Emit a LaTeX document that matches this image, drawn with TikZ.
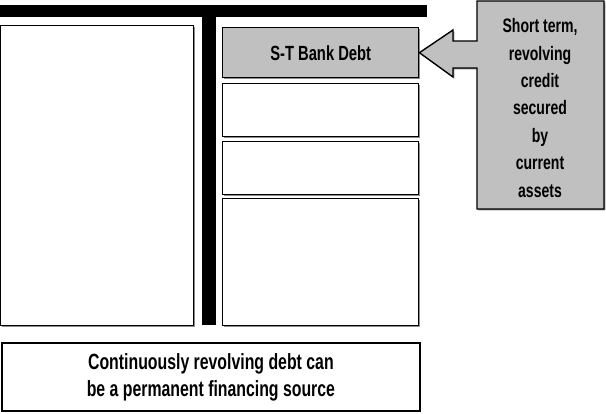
\documentclass[tikz,border=0pt]{standalone}
\usepackage{fontspec}
\setmainfont{Liberation Sans}[FakeStretch=0.72]
\usetikzlibrary{shadows}
\definecolor{boxgray}{RGB}{192,192,192}
\tikzset{
  panel/.style={draw=black, line width=1.4pt, fill=white, anchor=north west, inner sep=0pt,
    drop shadow={shadow xshift=1.4pt, shadow yshift=-1.4pt, fill=black, opacity=0.45}},
  bar/.style={fill=black, draw=none},
  lbl/.style={font=\bfseries\fontsize{20.5}{27}\selectfont, align=center, inner sep=0pt},
}
\begin{document}
\begin{tikzpicture}[x=1pt, y=-1pt]
\useasboundingbox (0,0) rectangle (606,414);
% T-bar
\fill[bar] (0,5) rectangle (427,17);
\fill[bar] (202,17) rectangle (216,325);
% left panel
\node[panel, minimum width=193pt, minimum height=300pt] (left) at (0,25) {};
% right panels
\node[panel, fill=boxgray, minimum width=196pt, minimum height=50pt, lbl] (std) at (222,27) {S-T Bank Debt};
\node[panel, minimum width=196pt, minimum height=53pt] (r2) at (222,83) {};
\node[panel, minimum width=196pt, minimum height=53pt] (r3) at (222,141) {};
\node[panel, minimum width=196pt, minimum height=127pt] (r4) at (222,198) {};
% bottom note
\node[panel, line width=1.8pt, drop shadow={opacity=0}, minimum width=418pt, minimum height=68pt, lbl, font=\bfseries\fontsize{22}{27}\selectfont] (note) at (1,342)
  {Continuously revolving debt can\\be a permanent financing source};
% callout
\draw[line width=1.4pt, fill=boxgray, line join=miter,
      drop shadow={shadow xshift=1.4pt, shadow yshift=-1.4pt, fill=black, opacity=0.45}]
  (477,1) -- (604,1) -- (604,209) -- (477,209) -- (477,68) -- (453,68) -- (453,77)
  -- (std.east) -- (453,30) -- (453,41) -- (477,41) -- cycle;
\node[lbl, font=\bfseries\fontsize{19.5}{27.4}\selectfont] (callout) at (540,108)
  {Short term,\\revolving\\credit\\secured\\by\\current\\assets};
\end{tikzpicture}
\end{document}
